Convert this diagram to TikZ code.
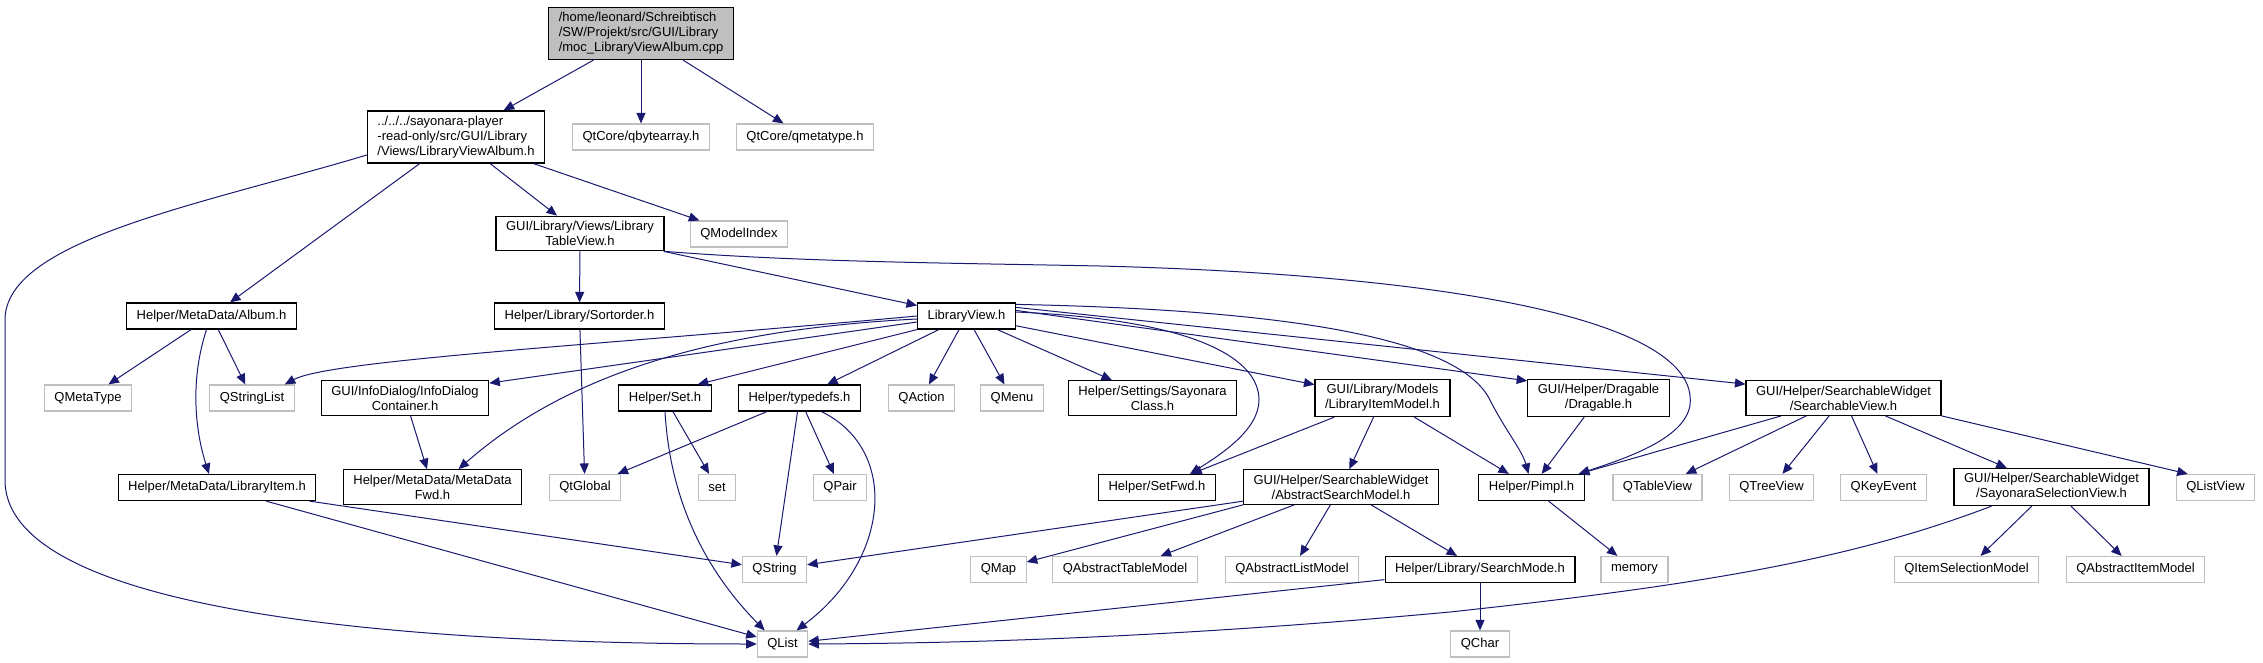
\documentclass[tikz,border=0pt]{standalone}
\usepackage{fontspec}
\setmainfont{Liberation Sans}
\usetikzlibrary{arrows.meta}
\definecolor{edgeblue}{RGB}{25,25,112}
\definecolor{boxgray}{RGB}{191,191,191}

\begin{document}
\begin{tikzpicture}[x=1pt,y=-1pt,
  hdr/.style={draw=black,line width=1.2pt,fill=white,inner xsep=10pt,inner ysep=5pt,minimum height=26pt,align=center,font=\fontsize{13}{15}\selectfont},
  sys/.style={hdr,draw=boxgray},
  dep/.style={-{Triangle[length=10.5pt,width=9pt]},color=edgeblue,line width=1pt}]
\useasboundingbox (0,0) rectangle (2263,663);
\node[hdr,fill=boxgray,align=left] (root) at (641,33.5) {/home/leonard/Schreibtisch\\/SW/Projekt/src/GUI/Library\\/moc\_LibraryViewAlbum.cpp};
\node[hdr,align=left] (lva) at (456,137) {../../../sayonara-player\\-read-only/src/GUI/Library\\/Views/LibraryViewAlbum.h};
\node[sys] (qbytearray) at (641,137) {QtCore/qbytearray.h};
\node[sys] (qmetatypeh) at (805,137) {QtCore/qmetatype.h};
\node[hdr] (tableview) at (580,233.5) {GUI/Library/Views/Library\\TableView.h};
\node[sys] (qmodelindex) at (739,234) {QModelIndex};
\node[hdr] (album) at (211.5,316) {Helper/MetaData/Album.h};
\node[hdr] (sortorder) at (579.5,316) {Helper/Library/Sortorder.h};
\node[hdr] (libview) at (966.5,316) {LibraryView.h};
\node[sys] (qmetatype) at (88,398) {QMetaType};
\node[sys] (qstringlist) at (252,398) {QStringList};
\node[hdr] (infodialog) at (405,398) {GUI/InfoDialog/InfoDialog\\Container.h};
\node[hdr] (seth) at (665,398) {Helper/Set.h};
\node[hdr] (typedefs) at (799.5,398) {Helper/typedefs.h};
\node[sys] (qaction) at (921.5,398) {QAction};
\node[sys] (qmenu) at (1012,398) {QMenu};
\node[hdr] (sayclass) at (1152.5,398) {Helper/Settings/Sayonara\\Class.h};
\node[hdr] (itemmodel) at (1382.5,398) {GUI/Library/Models\\/LibraryItemModel.h};
\node[hdr] (dragable) at (1598.5,398) {GUI/Helper/Dragable\\/Dragable.h};
\node[hdr] (searchview) at (1843.5,398) {GUI/Helper/SearchableWidget\\/SearchableView.h};
\node[hdr] (libitem) at (217,487.5) {Helper/MetaData/LibraryItem.h};
\node[hdr] (mdfwd) at (432.5,487) {Helper/MetaData/MetaData\\Fwd.h};
\node[sys] (qtglobal) at (585,487.5) {QtGlobal};
\node[sys] (set) at (717,487.5) {set};
\node[sys] (qpair) at (840,487.5) {QPair};
\node[hdr] (setfwd) at (1157,487.5) {Helper/SetFwd.h};
\node[hdr] (absmodel) at (1341,487) {GUI/Helper/SearchableWidget\\/AbstractSearchModel.h};
\node[hdr] (pimpl) at (1531.5,487.5) {Helper/Pimpl.h};
\node[sys] (qtableview) at (1657.5,487.5) {QTableView};
\node[sys] (qtreeview) at (1771.5,487.5) {QTreeView};
\node[sys] (qkeyevent) at (1883.5,487.5) {QKeyEvent};
\node[hdr] (selview) at (2051.5,487) {GUI/Helper/SearchableWidget\\/SayonaraSelectionView.h};
\node[sys] (qlistview) at (2215.5,487.5) {QListView};
\node[sys] (qstring) at (774.5,569.5) {QString};
\node[sys] (qmap) at (998.5,569.5) {QMap};
\node[sys] (qabstable) at (1125,569.5) {QAbstractTableModel};
\node[sys] (qabslist) at (1292,569.5) {QAbstractListModel};
\node[hdr] (searchmode) at (1480,569.5) {Helper/Library/SearchMode.h};
\node[sys] (memory) at (1634.5,569.5) {memory};
\node[sys] (qitemsel) at (1966.5,569.5) {QItemSelectionModel};
\node[sys] (qabsitem) at (2135.5,569.5) {QAbstractItemModel};
\node[sys] (qlist) at (782.5,644) {QList};
\node[sys] (qchar) at (1480,644) {QChar};
\draw[dep] (root) -- (lva);
\draw[dep] (root) -- (qbytearray);
\draw[dep] (root) -- (qmetatypeh);
\draw[dep] ([yshift=-18pt]lva.west) .. controls (200,205) and (5,240) .. (5,320) -- (5,480) .. controls (5,620) and (450,644) .. (qlist.west);
\draw[dep] (lva) -- (album);
\draw[dep] (lva) -- (tableview);
\draw[dep] (lva) -- (qmodelindex);
\draw[dep] (tableview) -- (sortorder);
\draw[dep] (tableview) -- (libview);
\draw[dep] (tableview.south east) .. controls (800,262) and (950,263) .. (1100,266) .. controls (1450,275) and (1700,320) .. (1690,405) .. controls (1685,440) and (1620,460) .. ([xshift=-6pt]pimpl.north east);
\draw[dep] (album) -- (qmetatype);
\draw[dep] (album) -- (qstringlist);
\draw[dep] ([xshift=-5pt]album.south) .. controls (190,380) and (195,430) .. ([xshift=-8pt]libitem.north);
\draw[dep] (sortorder) -- (qtglobal);
\draw[dep] (libview.west) .. controls (600,345) and (330,360) .. ([xshift=-10pt]qstringlist.north east);
\draw[dep] ([yshift=-3pt]libview.west) .. controls (700,330) and (560,380) .. ([xshift=26pt]mdfwd.north);
\draw[dep] ([yshift=-6pt]libview.west) -- ([yshift=-3pt]infodialog.north east);
\draw[dep] (libview.south west) -- ([xshift=-14pt]seth.north east);
\draw[dep] (libview) -- (typedefs);
\draw[dep] (libview) -- (qaction);
\draw[dep] (libview) -- (qmenu);
\draw[dep] (libview) -- (sayclass);
\draw[dep] (libview) -- (itemmodel);
\draw[dep] ([yshift=-2pt]libview.north east) .. controls (1300,310) and (1460,340) .. (1490,400) .. controls (1505,430) and (1522,450) .. ([xshift=-3pt]pimpl.north);
\draw[dep] ([yshift=-5pt]libview.north east) -- ([yshift=-4pt]searchview.north west);
\draw[dep] ([yshift=-8pt]libview.north east) -- ([yshift=-2pt]dragable.north west);
\draw[dep] ([yshift=4pt]libview.east) .. controls (1200,320) and (1259,360) .. (1259,400) .. controls (1259,430) and (1220,455) .. ([xshift=33pt]setfwd.north);
\draw[dep] (infodialog) -- (mdfwd);
\draw[dep] (seth) -- (set);
\draw[dep] (seth.south) .. controls (670,500) and (705,570) .. ([xshift=8pt]qlist.north west);
\draw[dep] (typedefs) -- (qtglobal);
\draw[dep] (typedefs) -- (qstring);
\draw[dep] (typedefs) -- (qpair);
\draw[dep] ([xshift=22pt]typedefs.south) .. controls (900,450) and (890,560) .. ([xshift=14pt]qlist.north);
\draw[dep] (libitem) -- (qstring);
\draw[dep] (libitem) -- (qlist);
\draw[dep] (itemmodel) -- (setfwd);
\draw[dep] (itemmodel) -- (absmodel);
\draw[dep] (itemmodel) -- (pimpl);
\draw[dep] (absmodel) -- (qstring);
\draw[dep] (absmodel.south west) -- (qmap);
\draw[dep] (absmodel) -- (qabstable);
\draw[dep] (absmodel) -- (qabslist);
\draw[dep] (absmodel) -- (searchmode);
\draw[dep] (searchmode) -- (qlist);
\draw[dep] (searchmode) -- (qchar);
\draw[dep] (dragable) -- (pimpl);
\draw[dep] (searchview) -- (pimpl);
\draw[dep] (searchview) -- (qtableview);
\draw[dep] (searchview) -- (qtreeview);
\draw[dep] (searchview) -- (qkeyevent);
\draw[dep] (searchview) -- (selview);
\draw[dep] (searchview.south east) -- ([xshift=12pt]qlistview.north west);
\draw[dep] ([xshift=-60pt]selview.south) .. controls (1850,560) and (1700,585) .. (1450,612) .. controls (1200,635) and (1000,643) .. (qlist.east);
\draw[dep] (selview) -- (qitemsel);
\draw[dep] (selview) -- (qabsitem);
\draw[dep] (pimpl) -- (memory);
\end{tikzpicture}
\end{document}
